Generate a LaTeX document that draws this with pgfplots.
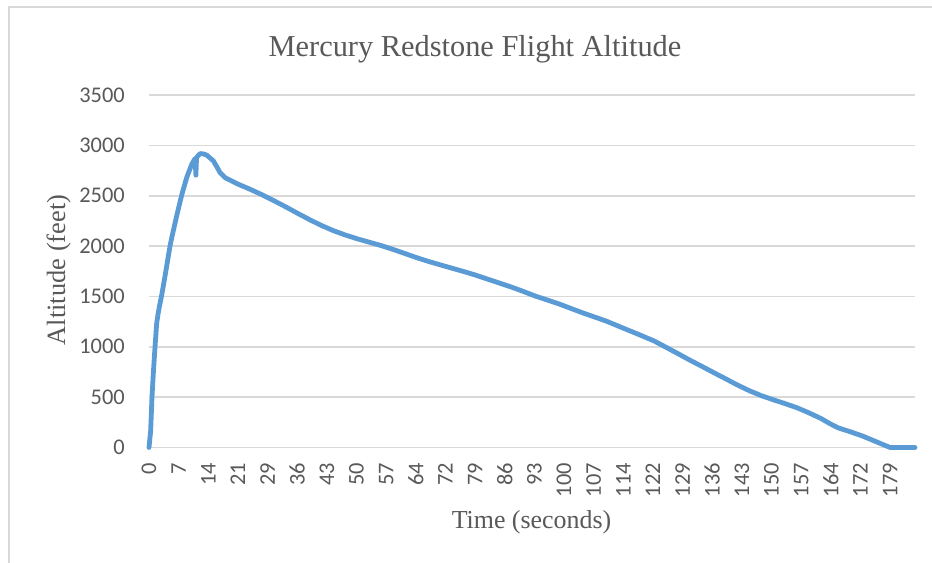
\documentclass[border=0pt]{standalone}
\usepackage{fontspec}
\setmainfont{Liberation Serif}
\newfontfamily\calibri{Carlito}
\usepackage{pgfplots}
\pgfplotsset{compat=1.18}
\definecolor{txtgray}{HTML}{595959}
\definecolor{gridgray}{HTML}{D9D9D9}
\definecolor{lineblue}{HTML}{5B9BD5}
\begin{document}
\begin{tikzpicture}
\useasboundingbox (0,0) rectangle (932bp,563bp);
\fill[white] (0,0) rectangle (932bp,563bp);
\draw[gridgray, line width=2bp] (8.5bp,-10bp) -- (8.5bp,555.5bp) -- (950bp,555.5bp);
\begin{axis}[
  at={(149bp,115.5bp)}, anchor=south west,
  width=766bp, height=352.5bp, scale only axis,
  xmin=0, xmax=184.5, ymin=0, ymax=3500,
  axis line style={draw=none},
  major tick length=0pt,
  ymajorgrids, grid style={draw=gridgray, line width=1.6bp},
  ytick={0,500,1000,1500,2000,2500,3000,3500},
  xtick={0,7.14,14.28,21.42,28.56,35.7,42.84,49.98,57.12,64.26,71.4,78.54,85.68,92.82,99.96,107.1,114.24,121.38,128.52,135.66,142.8,149.94,157.08,164.22,171.36,178.5},
  xticklabels={0,7,14,21,29,36,43,50,57,64,72,79,86,93,100,107,114,122,129,136,143,150,157,164,172,179},
  /pgf/number format/assume math mode=true,
  /pgf/number format/set thousands separator={},
  ticklabel style={font=\calibri\fontsize{22.5}{22.5}\selectfont, text=txtgray, inner sep=0pt},
  xticklabel style={rotate=90, anchor=east},
  yticklabel style={anchor=east},
  xticklabel shift=15.5bp,
  yticklabel shift=24bp,
  clip=false,
]
\addplot[lineblue, line width=4.8bp, line join=round, line cap=round] coordinates {
(0,0) (0.4,166) (0.72,500) (1.04,735) (1.45,1000) (1.85,1233) (2.2,1330)
(2.6,1420) (3.05,1510) (3.6,1640) (4.26,1800) (5.06,2000) (5.46,2080)
(6.67,2300) (7.87,2505) (9.08,2680) (10.3,2813) (11.1,2870) (11.3,2704)
(11.45,2880) (12.3,2918) (13.1,2915) (13.9,2903) (15.5,2846) (16.3,2790)
(17.1,2730) (18.3,2680) (21.5,2614) (24.3,2565) (27.2,2510) (30.1,2450)
(33,2388) (35.8,2325) (38.7,2262) (41.5,2205) (44.3,2155) (47.2,2111)
(50.1,2073) (53,2039) (55.9,2005) (58.7,1968) (61.5,1928) (64.4,1886)
(67.2,1849) (70.1,1814) (73,1780) (75.9,1746) (78.8,1710) (81.6,1671)
(84.4,1633) (87.3,1593) (90.2,1549) (93,1504) (95.9,1465) (98.8,1425)
(101.6,1381) (104.5,1336) (107.3,1296) (110.2,1254) (113,1206) (115.9,1157)
(118.8,1108) (121.7,1057) (124.5,996) (127.4,932) (130.2,869) (133.1,807)
(136,744) (138.9,682) (141.7,621) (144.6,564) (147.4,516) (150.3,475)
(153.1,437) (156,396) (158.9,345) (161.8,289) (164,237) (166,195)
(169,155) (171.8,115) (175,60) (178.5,0) (184.5,0)
};
\end{axis}
\node[anchor=base, text=txtgray, font=\fontsize{30.5}{30.5}\selectfont] at (475bp,506.5bp) {Mercury Redstone Flight Altitude};
\node[anchor=base, text=txtgray, font=\fontsize{26}{26}\selectfont] at (531.5bp,35bp) {Time (seconds)};
\node[anchor=base, rotate=90, text=txtgray, font=\fontsize{26.5}{26.5}\selectfont] at (65bp,293bp) {Altitude (feet)};
\end{tikzpicture}
\end{document}
